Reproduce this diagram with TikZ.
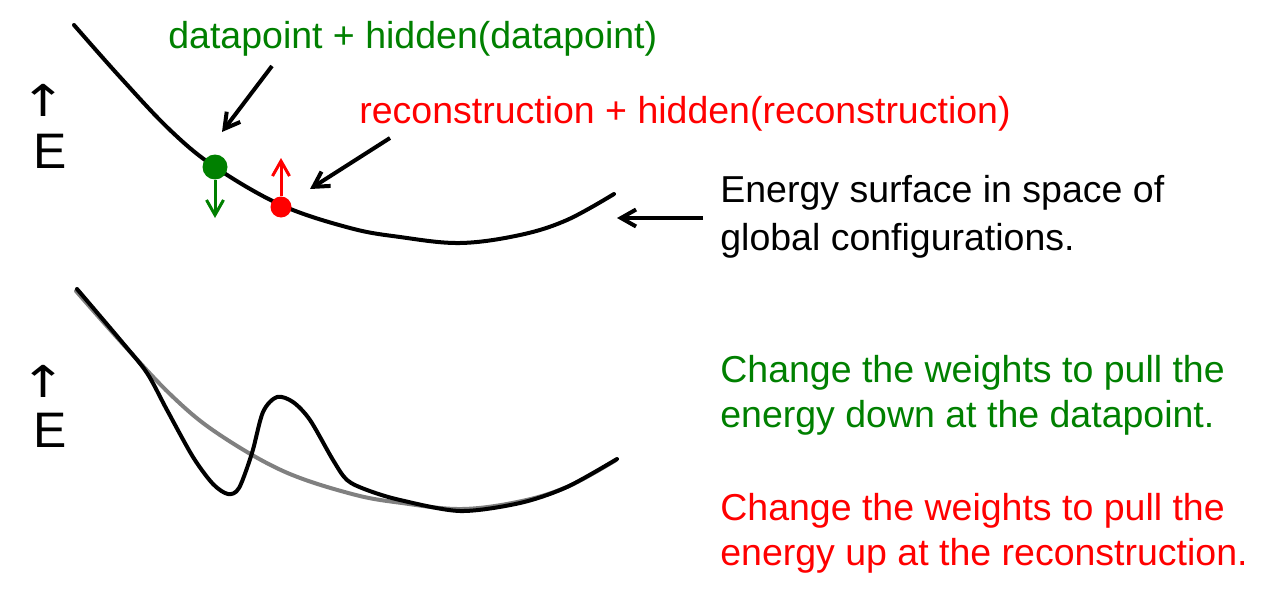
\documentclass[tikz,border=0pt]{standalone}
\usepackage{fontspec}
\setmainfont{Liberation Sans}
\newfontfamily\arrowfont{DejaVu Sans}
\usetikzlibrary{arrows.meta}
\definecolor{dgreen}{RGB}{0,128,0}
\definecolor{bred}{RGB}{255,0,0}
\definecolor{lgray}{RGB}{128,128,128}
\begin{document}
\begin{tikzpicture}[x=0.02cm,y=-0.02cm,
  txt/.style={font=\fontsize{21.34}{27.3}\selectfont, inner sep=0pt, anchor=base west, align=left},
  txtb/.style={font=\fontsize{21.34}{25.6}\selectfont, inner sep=0pt, anchor=base west, align=left},
  elabel/.style={font=\fontsize{28.4}{30}\selectfont, inner sep=0pt, anchor=base west},
  arrlabel/.style={font=\arrowfont\fontsize{25}{27}\selectfont, inner sep=0pt, anchor=center, xscale=1.25},
  curve/.style={line width=0.08cm, line cap=round, line join=round},
  pointer/.style={line width=0.08cm, -{Straight Barb[length=0.3cm,width=0.34cm,line width=0.08cm]}},
  move/.style={line width=0.06cm, -{Straight Barb[length=0.3cm,width=0.34cm,line width=0.06cm]}},
  dot/.style={circle, inner sep=0pt, draw=none}]
\useasboundingbox (0,0) rectangle (1273,595);

% top energy surface
\draw[curve] plot[smooth, tension=0.6] coordinates {(74,25) (120,77) (170,130) (215,167) (281,205) (350,228) (400,237) (460,243) (520,235) (567,220) (614,194)};

% bottom: original (gray) and changed (black)
\begin{scope}[shift={(2,266)}]
\draw[curve, lgray] plot[smooth, tension=0.6] coordinates {(74,25) (120,77) (170,130) (215,167) (281,205) (350,228) (400,237) (460,243) (520,235) (567,220) (614,194)};
\end{scope}
\draw[curve] plot[smooth, tension=0.5] coordinates {(77,289) (122,342) (147,373) (167,410) (193,457) (213,484) (228,494) (239,488) (252,453) (263,412) (277,397) (293,402) (310,420) (333,460) (347,480) (367,490) (400,500) (460,511) (520,503) (567,487) (617,459)};

% E axis labels
\node[arrlabel] (up1) at (44,100) {↑};
\node[elabel] (e1) at (33,168) {E};
\node[arrlabel] (up2) at (44,381) {↑};
\node[elabel] (e2) at (33,447) {E};

% data point and reconstruction
\node[dot, fill=dgreen, minimum size=0.5cm] (dp) at (215,167) {};
\node[dot, fill=bred, minimum size=0.42cm] (rc) at (281,207) {};
\coordinate (dpdown) at (215,218);
\coordinate (rcup) at (281,158);
\draw[move, dgreen] (dp.south) -- (dpdown);
\draw[move, bred] (rc.north) -- (rcup);

% labels
\node[txt, dgreen] (dlab) at (168,48) {datapoint + hidden(datapoint)};
\node[txt, bred] (rlab) at (359,123) {reconstruction + hidden(reconstruction)};
\node[txt] (elab) at (720,250) {Energy surface in space of\\global configurations.};
\node[txtb, dgreen] (glab) at (720,427) {Change the weights to pull the\\energy down at the datapoint.};
\node[txtb, bred] (rlab2) at (720,565) {Change the weights to pull the\\energy up at the reconstruction.};

% pointers
\coordinate (p1s) at (272,66);
\coordinate (p1e) at (222,132);
\coordinate (p2s) at (390,138);
\coordinate (p2e) at (310,189);
\coordinate (p3s) at (703,218);
\coordinate (p3e) at (617,218);
\draw[pointer] (p1s) -- (p1e);
\draw[pointer] (p2s) -- (p2e);
\draw[pointer] (p3s) -- (p3e);
\end{tikzpicture}
\end{document}
